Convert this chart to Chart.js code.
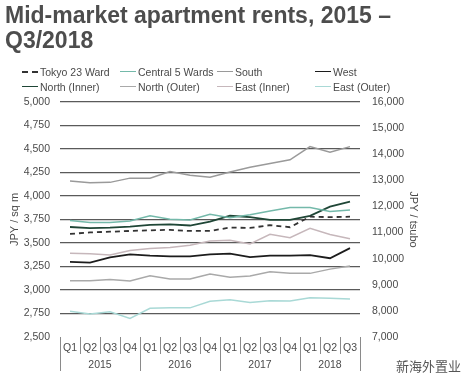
<!DOCTYPE html>
<html>
<head>
<meta charset="utf-8">
<script src="https://cdn.jsdelivr.net/npm/chart.js@4.4.1/dist/chart.umd.min.js"></script>
<style>
  html, body { margin: 0; padding: 0; background: #fff; }
  #wrap { position: relative; width: 463px; height: 384px; overflow: hidden; font-family: "Liberation Sans", Arial, sans-serif; }
  #title { position: absolute; left: 5px; top: 3px; font-size: 23px; font-weight: bold; color: #4d4d4d; line-height: 25px; }
  #legend { position: absolute; left: 0; top: 63px; width: 463px; }
  .item { position: absolute; font-size: 10.5px; color: #4a4a4a; white-space: nowrap; height: 14px; line-height: 14px; }
  .item .swatch { position: absolute; left: 0; top: 6px; width: 16px; height: 0; }
  .item .lbl { position: absolute; left: 18px; top: 0; }
  #mark { position: absolute; left: 396px; top: 356px; font-family: "Noto Sans CJK SC", sans-serif; font-size: 13px; color: #555; }
  #chartBox { position: absolute; left: 0; top: 0; width: 463px; height: 384px; }
</style>
</head>
<body>
<div id="wrap">
  <div id="chartBox"><canvas id="rentChart"></canvas></div>
  <div id="title">Mid-market apartment rents, 2015 –<br>Q3/2018</div>
  <div id="legend"></div>
  <div id="mark">新海外置业</div>
</div>
<script>
const quarterLabels = ['Q1', 'Q2', 'Q3', 'Q4', 'Q1', 'Q2', 'Q3', 'Q4', 'Q1', 'Q2', 'Q3', 'Q4', 'Q1', 'Q2', 'Q3'];
const yearLabels = ['2015', '2016', '2017', '2018'];
const quartersPerYear = [4, 4, 4, 3];

const tokyo23 = [3597, 3612, 3620, 3628, 3635, 3640, 3628, 3628, 3665, 3660, 3690, 3668, 3780, 3775, 3780];
const central5 = [3740, 3718, 3718, 3735, 3790, 3752, 3745, 3805, 3770, 3800, 3840, 3878, 3878, 3835, 3852];
const south = [4160, 4140, 4145, 4190, 4190, 4260, 4220, 4200, 4255, 4305, 4345, 4385, 4525, 4465, 4525];
const west = [3300, 3292, 3348, 3380, 3365, 3358, 3358, 3380, 3388, 3350, 3365, 3365, 3372, 3338, 3445];
const northInner = [3670, 3658, 3664, 3675, 3692, 3698, 3686, 3727, 3790, 3775, 3745, 3745, 3788, 3887, 3940];
const northOuter = [3098, 3098, 3112, 3095, 3152, 3116, 3116, 3170, 3135, 3148, 3194, 3177, 3177, 3222, 3255];
const eastInner = [3392, 3385, 3372, 3420, 3442, 3452, 3475, 3520, 3530, 3490, 3592, 3557, 3657, 3590, 3545];
const eastOuter = [2775, 2745, 2768, 2698, 2805, 2810, 2810, 2880, 2895, 2868, 2885, 2882, 2917, 2913, 2903];

const FONT = '"Liberation Sans", Arial, sans-serif';

const series = [
  { label: 'Tokyo 23 Ward', data: tokyo23, color: '#333333', dash: [5, 4], width: 1.8 },
  { label: 'Central 5 Wards', data: central5, color: '#74b9aa', width: 1.5 },
  { label: 'South', data: south, color: '#9a9a9a', width: 1.5 },
  { label: 'West', data: west, color: '#1c1c1c', width: 1.8 },
  { label: 'North (Inner)', data: northInner, color: '#1f4636', width: 1.8 },
  { label: 'North (Outer)', data: northOuter, color: '#a9a9a9', width: 1.5 },
  { label: 'East (Inner)', data: eastInner, color: '#c6b7bb', width: 1.5 },
  { label: 'East (Outer)', data: eastOuter, color: '#a9d9d6', width: 1.5 },
];

// legend, 4 columns x 2 rows
const legendEl = document.getElementById('legend');
const colX = [22, 120, 217, 315];
series.forEach((s, i) => {
  const item = document.createElement('div');
  item.className = 'item';
  item.style.left = colX[i % 4] + 'px';
  item.style.top = (i < 4 ? 2 : 17) + 'px';
  const sw = document.createElement('span');
  sw.className = 'swatch';
  sw.style.borderTop = (s.dash ? '2px dashed ' : '1.5px solid ') + s.color;
  const lbl = document.createElement('span');
  lbl.className = 'lbl';
  lbl.textContent = s.label;
  item.appendChild(sw);
  item.appendChild(lbl);
  legendEl.appendChild(item);
});

// quarter / year boxes under the plot
const quarterAxis = {
  id: 'quarterAxis',
  afterDraw(chart) {
    const x = chart.scales.x;
    const ctx = chart.ctx;
    const bottom = chart.chartArea.bottom;
    const half = (x.getPixelForValue(1) - x.getPixelForValue(0)) / 2;
    ctx.save();
    ctx.font = '10.5px ' + FONT;
    ctx.fillStyle = '#4a4a4a';
    ctx.textAlign = 'center';
    ctx.textBaseline = 'middle';
    ctx.strokeStyle = '#8a8a8a';
    ctx.lineWidth = 1;

    quarterLabels.forEach((q, i) => {
      ctx.fillText(q, x.getPixelForValue(i), bottom + 11);
    });

    let idx = 0;
    yearLabels.forEach((yr, k) => {
      const n = quartersPerYear[k];
      const left = x.getPixelForValue(idx) - half;
      const right = x.getPixelForValue(idx + n - 1) + half;
      ctx.beginPath();
      ctx.moveTo(Math.round(left) + 0.5, bottom);
      ctx.lineTo(Math.round(left) + 0.5, bottom + 34);
      for (let j = 1; j < n; j++) {
        const px = Math.round(x.getPixelForValue(idx + j) - half) + 0.5;
        ctx.moveTo(px, bottom);
        ctx.lineTo(px, bottom + 17);
      }
      if (k === yearLabels.length - 1) {
        ctx.moveTo(Math.round(right) + 0.5, bottom);
        ctx.lineTo(Math.round(right) + 0.5, bottom + 34);
      }
      ctx.stroke();
      ctx.fillText(yr, (left + right) / 2, bottom + 28);
      idx += n;
    });
    ctx.restore();
  },
};

new Chart(document.getElementById('rentChart'), {
  type: 'line',
  data: {
    labels: quarterLabels.map((q, i) => i + ':' + q),
    datasets: series.map((s) => ({
      label: s.label,
      data: s.data,
      borderColor: s.color,
      backgroundColor: s.color,
      borderWidth: s.width,
      borderDash: s.dash || [],
      pointRadius: 0,
      tension: 0,
      fill: false,
      yAxisID: 'y',
    })).concat([{
      label: 'tsubo',
      data: [],
      yAxisID: 'y2',
      pointRadius: 0,
    }]),
  },
  options: {
    responsive: true,
    maintainAspectRatio: false,
    animation: false,
    layout: { padding: { top: 102, left: 0, right: 0, bottom: 0 } },
    plugins: {
      legend: { display: false },
      tooltip: { enabled: false },
    },
    scales: {
      x: {
        type: 'category',
        offset: true,
        grid: { display: false },
        border: { display: false },
        ticks: { display: false },
        afterFit(scale) { scale.height = 47; },
      },
      y: {
        position: 'left',
        min: 2500,
        max: 5000,
        border: { display: false },
        grid: {
          drawTicks: false,
          lineWidth: 1.2,
          color: (c) => (c.tick && c.tick.value === 2500 ? 'rgba(0,0,0,0)' : '#5a5a5a'),
        },
        ticks: {
          stepSize: 250,
          padding: 10,
          color: '#4a4a4a',
          font: { family: FONT, size: 10.5 },
          callback: (v) => v.toLocaleString('en-US'),
        },
        title: {
          display: true,
          text: 'JPY / sq m',
          color: '#4a4a4a',
          font: { family: FONT, size: 11 },
          padding: { top: 8, bottom: 0 },
        },
        afterFit(scale) { scale.width = 60; },
      },
      y2: {
        position: 'right',
        min: 7000,
        max: 16000,
        border: { display: false },
        grid: { display: false, drawTicks: false },
        ticks: {
          stepSize: 1000,
          padding: 12,
          color: '#4a4a4a',
          font: { family: FONT, size: 10.5 },
          callback: (v) => v.toLocaleString('en-US'),
        },
        title: {
          display: true,
          text: 'JPY / tsubo',
          color: '#4a4a4a',
          font: { family: FONT, size: 11 },
          padding: { top: 43, bottom: 0 },
        },
        afterFit(scale) { scale.width = 103; },
      },
    },
  },
  plugins: [quarterAxis],
});
</script>
</body>
</html>
